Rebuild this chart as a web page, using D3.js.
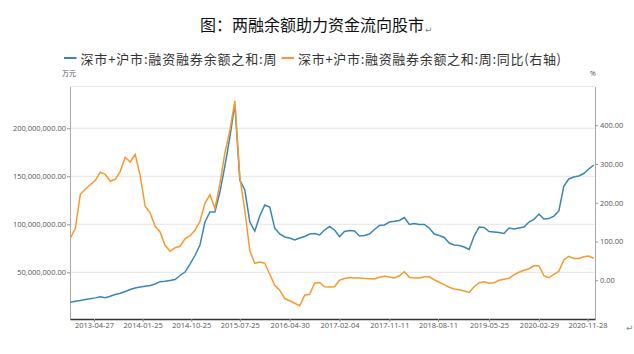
<!DOCTYPE html>
<html>
<head>
<meta charset="utf-8">
<script src="https://cdn.jsdelivr.net/npm/d3@7"></script>
<style>
  body { margin: 0; background: #fff; }
  svg { display: block; }
</style>
</head>
<body>
<svg id="chart" width="634" height="354"></svg>
<script>
// weekly series, read every 4th week off the picture
const firstDate = "2012-12-15";
const stepDays = 28;

// 深市+沪市:融资融券余额之和:周 (百万 万元)
const balance = [
  18.9, 19.8, 20.7, 21.7, 22.6, 23.4, 24.5, 23.6, 25.1, 26.9,
  28.2, 30.0, 32.1, 33.6, 34.7, 35.5, 36.3, 37.8, 40.3, 40.6,
  41.5, 42.5, 46.7, 50.3, 58.6, 67.5, 78.4, 102.4, 112.8, 112.8,
  133.6, 160.7, 190.9, 225.3, 146.1, 135.7, 102.4, 93.0, 108.6, 120.1,
  118.0, 96.1, 89.9, 86.8, 85.7, 83.6, 85.7, 87.3, 89.9, 90.4,
  88.9, 94.1, 97.7, 94.1, 87.3, 92.5, 93.5, 93.0, 87.8, 88.3,
  89.9, 94.6, 98.8, 99.3, 102.4, 103.1, 104.0, 107.1, 99.8, 100.8,
  99.8, 99.8, 96.1, 89.9, 88.3, 86.3, 80.5, 78.4, 77.9, 76.4,
  73.8, 87.8, 97.2, 96.7, 92.5, 92.0, 91.5, 90.4, 96.1, 95.1,
  96.1, 97.2, 102.4, 105.0, 110.7, 105.5, 106.0, 108.6, 113.9, 139.9,
  147.2, 149.3, 150.3, 152.9, 157.6, 161.8
];

// 同比 (%), right axis
const yoy = [
  108.3, 134.1, 221.8, 234.7, 246.3, 257.9, 278.6, 273.4, 255.4, 260.5,
  281.1, 317.3, 305.1, 325.0, 270.8, 190.9, 174.1, 139.3, 124.6, 90.3,
  74.8, 83.8, 87.7, 107.0, 114.8, 129.0, 152.2, 198.6, 220.5, 185.7,
  248.9, 328.9, 386.9, 463.0, 265.7, 180.6, 76.1, 43.8, 46.9, 43.8,
  15.5, -12.9, -25.8, -47.2, -52.9, -59.3, -65.8, -38.7, -36.1, -7.7,
  -5.9, -16.8, -17.3, -16.8, 0.0, 4.4, 7.2, 5.9, 5.7, 4.4,
  4.1, 3.1, 7.7, 10.3, 8.3, 5.9, 11.6, 21.9, 7.7, 5.9,
  5.9, 9.0, 9.0, 1.3, -5.2, -11.1, -18.1, -22.4, -24.5, -27.6,
  -31.5, -16.8, -6.4, -3.9, -7.7, -6.4, 0.0, 2.6, 5.2, 13.7,
  20.6, 25.8, 29.7, 37.4, 37.4, 11.6, 6.4, 15.0, 23.2, 52.9,
  61.9, 56.0, 56.0, 60.6, 62.7, 56.7
];

const xTicks = ["2013-04-27", "2014-01-25", "2014-10-25", "2015-07-25", "2016-04-30",
                "2017-02-04", "2017-11-11", "2018-08-11", "2019-05-25", "2020-02-29", "2020-11-28"];
const leftTicks = [50, 100, 150, 200];
const rightTicks = [0, 100, 200, 300, 400];

const titleText = "图：两融余额助力资金流向股市";
const legendNames = ["深市+沪市:融资融券余额之和:周", "深市+沪市:融资融券余额之和:周:同比(右轴)"];
const colors = ["#3a86b4", "#f79a2e"];

/***** setup *****/
const svg = d3.select("#chart");
const width = 634, height = 354;
const margin = {top: 86.5, left: 70, right: 39, bottom: 35};
const plotRight = width - margin.right;
const plotBottom = height - margin.bottom;

const parse = d3.timeParse("%Y-%m-%d");
const t0 = parse(firstDate);
const dates = balance.map((_, i) => d3.timeDay.offset(t0, i * stepDays));

/***** scales *****/
const x = d3.scaleTime()
    .domain([parse("2012-12-13"), parse("2021-01-09")])
    .range([margin.left, plotRight]);

const yL = d3.scaleLinear()
    .domain([1.4, 243.5])
    .range([plotBottom, margin.top]);

const yR = d3.scaleLinear()
    .domain([-100, 500])
    .range([plotBottom, margin.top]);

const labelFont = "'Open Sans', 'DejaVu Sans', sans-serif";
const cjkFont = "'Noto Sans CJK SC', sans-serif";

/***** gridlines *****/
svg.append("g")
    .selectAll("line")
    .data(leftTicks)
    .join("line")
    .attr("x1", margin.left).attr("x2", plotRight)
    .attr("y1", d => yL(d)).attr("y2", d => yL(d))
    .attr("stroke", "#e6e6e6");

svg.append("line")
    .attr("x1", margin.left).attr("x2", plotRight)
    .attr("y1", margin.top).attr("y2", margin.top)
    .attr("stroke", "#e6e6e6");

/***** axes *****/
const leftAxis = svg.append("g")
    .attr("transform", `translate(${margin.left},0)`)
    .call(d3.axisLeft(yL)
        .tickValues(leftTicks)
        .tickSize(3).tickSizeOuter(0).tickPadding(1)
        .tickFormat(d => d3.format(",.2f")(d * 1e6)));

const rightAxis = svg.append("g")
    .attr("transform", `translate(${plotRight},0)`)
    .call(d3.axisRight(yR)
        .tickValues(rightTicks)
        .tickSize(3).tickSizeOuter(0).tickPadding(2)
        .tickFormat(d3.format(".2f")));

const bottomAxis = svg.append("g")
    .attr("transform", `translate(0,${plotBottom})`)
    .call(d3.axisBottom(x)
        .tickValues(xTicks.map(parse))
        .tickSize(3).tickSizeOuter(0).tickPadding(1)
        .tickFormat(d3.timeFormat("%Y-%m-%d")));

[leftAxis, rightAxis, bottomAxis].forEach(g => {
    g.selectAll("text")
        .style("font-family", labelFont)
        .style("font-size", "7.5px")
        .attr("fill", "#555");
    g.selectAll(".tick line").attr("stroke", "#999");
    g.select(".domain").attr("stroke", "#aaa");
});
bottomAxis.select(".domain").attr("stroke", "#333").attr("stroke-width", 1.6);

/***** lines *****/
const lineL = d3.line().x((d, i) => x(dates[i])).y(d => yL(d));
const lineR = d3.line().x((d, i) => x(dates[i])).y(d => yR(d));

svg.append("path")
    .datum(balance)
    .attr("d", lineL)
    .attr("fill", "none")
    .attr("stroke", colors[0])
    .attr("stroke-width", 1.5);

svg.append("path")
    .datum(yoy)
    .attr("d", lineR)
    .attr("fill", "none")
    .attr("stroke", colors[1])
    .attr("stroke-width", 1.5);

/***** units *****/
svg.append("text")
    .attr("x", 62).attr("y", 76)
    .style("font-family", cjkFont).style("font-size", "7px")
    .attr("fill", "#555")
    .text("万元");

svg.append("text")
    .attr("x", 593).attr("y", 76)
    .attr("text-anchor", "middle")
    .style("font-family", labelFont).style("font-size", "7px")
    .attr("fill", "#555")
    .text("%");

/***** title *****/
const title = svg.append("text")
    .attr("x", 312).attr("y", 31)
    .attr("text-anchor", "middle")
    .style("font-family", cjkFont).style("font-size", "16px")
    .attr("fill", "#111")
    .text(titleText);
const tEnd = 312 + title.node().getComputedTextLength() / 2;
svg.append("text")
    .attr("x", tEnd + 1).attr("y", 33)
    .style("font-family", labelFont).style("font-size", "9px")
    .attr("fill", "#888")
    .text("↵");

svg.append("text")
    .attr("x", 626).attr("y", 331)
    .style("font-family", labelFont).style("font-size", "9px")
    .attr("fill", "#888")
    .text("↵");

/***** legend *****/
// item start x and text width as measured on the reference
const legendX = [64, 281.5];
const legendTextWidth = [196, 263];
const legend = svg.append("g").attr("transform", "translate(0,58)");
legendNames.forEach((name, i) => {
    legend.append("line")
        .attr("x1", legendX[i]).attr("x2", legendX[i] + 12.5)
        .attr("y1", 0).attr("y2", 0)
        .attr("stroke", colors[i]).attr("stroke-width", 2);
    legend.append("text")
        .attr("x", legendX[i] + 16.5).attr("y", 0)
        .attr("dominant-baseline", "central")
        .attr("textLength", legendTextWidth[i])
        .attr("lengthAdjust", "spacing")
        .style("font-family", cjkFont).style("font-size", "13px")
        .attr("fill", "#333")
        .text(name);
});
</script>
</body>
</html>
